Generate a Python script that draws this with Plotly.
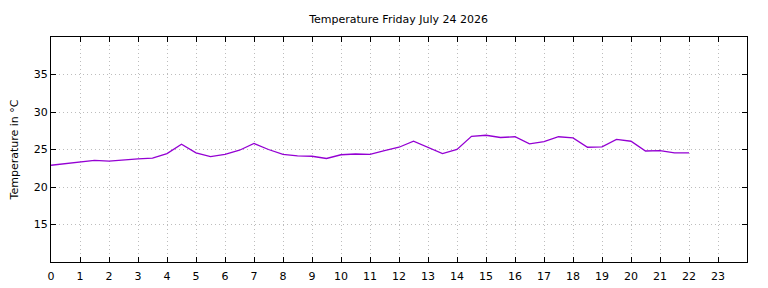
import plotly.graph_objects as go

hours = [i * 0.5 for i in range(45)]
temps = [22.9, 23.1, 23.25, 23.55, 23.45, 23.65, 23.75, 23.85, 24.45, 25.7,
         24.55, 24.05, 24.35, 24.9, 25.8, 25.0, 24.35, 24.15, 24.1, 23.8,
         24.3, 24.4, 24.35, 24.85, 25.3, 26.1, 25.3, 24.45, 25.0, 26.75,
         26.9, 26.6, 26.7, 25.75, 26.05, 26.7, 26.55, 25.3, 25.35, 26.35,
         26.1, 24.8, 24.85, 24.55, 24.55]
x_ticks = list(range(24))
y_ticks = [15, 20, 25, 30, 35]

fig = go.Figure()
fig.add_trace(go.Scatter(x=hours, y=temps, mode="lines",
                         line=dict(color="#9400d3", width=1.3),
                         showlegend=False))

font = "DejaVu Sans, sans-serif"
grid = dict(showgrid=True, gridcolor="#bdbdbd", griddash="1px,3px", gridwidth=1)
fig.update_layout(
    width=768, height=288,
    margin=dict(l=51, r=21, t=37, b=26),
    paper_bgcolor="white", plot_bgcolor="white",
    font=dict(family=font, size=11, color="black"),
    title=dict(text="Temperature Friday July 24 2026", x=0.519, xanchor="center",
               y=1 - 19 / 288, yanchor="middle", font=dict(size=11)),
)
fig.update_xaxes(range=[0, 24], tickvals=x_ticks, ticktext=[str(v) for v in x_ticks],
                 showline=True, linecolor="black", linewidth=1, mirror="allticks",
                 ticks="inside", ticklen=5, tickcolor="black", ticklabelstandoff=4,
                 automargin=False,
                 zeroline=False, tickfont=dict(size=11), **grid)
fig.update_yaxes(range=[10, 40], tickvals=y_ticks,
                 showline=True, linecolor="black", linewidth=1, mirror="allticks",
                 ticks="inside", ticklen=5, tickcolor="black", automargin=False,
                 zeroline=False, tickfont=dict(size=11),
                 title=dict(text="Temperature in °C", font=dict(size=11), standoff=12),
                 **grid)

fig.write_html("out.html")
